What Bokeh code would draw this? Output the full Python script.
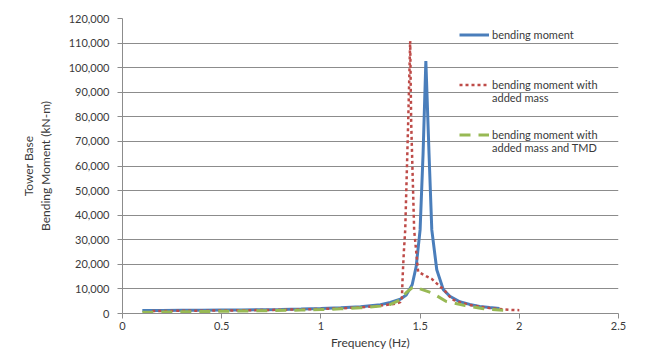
from bokeh.plotting import figure
from bokeh.models import Range1d, FixedTicker, Legend, LegendItem
from bokeh.embed import file_html
from bokeh.resources import INLINE

# ---- data ----
freq_bm = [0.1, 0.2, 0.3, 0.4, 0.5, 0.6, 0.7, 0.8, 0.9, 1.0, 1.1, 1.2, 1.3, 1.35, 1.4,
           1.43, 1.46, 1.48, 1.5, 1.515, 1.529, 1.545, 1.559, 1.584, 1.617, 1.65,
           1.7, 1.75, 1.8, 1.85, 1.9]
bm = [1200, 1250, 1300, 1350, 1400, 1450, 1550, 1650, 1800, 2000, 2300, 2700, 3600, 4500, 5800,
      7500, 11700, 19000, 34000, 65000, 102700, 65000, 34000, 17800, 9700, 7000,
      4800, 3700, 2900, 2400, 2000]

freq_mass = [0.15, 0.3, 0.5, 0.7, 0.9, 1.0, 1.1, 1.2, 1.3, 1.38, 1.40, 1.408, 1.412, 1.418,
             1.425, 1.44, 1.45, 1.455, 1.47, 1.49, 1.53, 1.56, 1.6, 1.62, 1.66, 1.7,
             1.75, 1.8, 1.85, 1.9, 1.95, 2.0]
bm_mass = [1000, 1100, 1200, 1400, 1650, 1850, 2100, 2500, 3200, 4000, 4600, 5500, 15000, 25000,
           34000, 78000, 110800, 78000, 34000, 17000, 15200, 14000, 11000, 9700, 5800, 4600,
           3500, 2800, 2200, 1800, 1500, 1350]

freq_tmd = [0.1, 0.3, 0.5, 0.7, 0.9, 1.0, 1.1, 1.2, 1.3, 1.35, 1.4, 1.43, 1.467, 1.5, 1.559,
            1.63, 1.727, 1.82, 1.9, 1.93]
bm_tmd = [500, 700, 900, 1100, 1400, 1600, 1900, 2300, 3000, 3700, 5500, 8500, 11000, 10000, 8400,
          5000, 3200, 1900, 1400, 1300]

# legend labels, one list per series (one entry per text line)
series_names = [["bending moment"],
                ["bending moment with", "added mass"],
                ["bending moment with", "added mass and TMD"]]

x_ticks = [0, 0.5, 1, 1.5, 2, 2.5]
x_tick_labels = ["0", "0.5", "1", "1.5", "2", "2.5"]
y_ticks = [0, 10000, 20000, 30000, 40000, 50000, 60000, 70000, 80000, 90000, 100000, 110000, 120000]
y_tick_labels = ["0", "10,000", "20,000", "30,000", "40,000", "50,000", "60,000", "70,000",
                 "80,000", "90,000", "100,000", "110,000", "120,000"]

FONT = "Lato"
TXT = "#3a3a3a"
GRID = "#8c8c8c"

p = figure(width=654, height=352, output_backend="svg", toolbar_location=None,
           x_range=Range1d(0, 2.5), y_range=Range1d(0, 120000),
           min_border_left=122, min_border_right=36, min_border_top=18, min_border_bottom=38)

p.outline_line_color = None
p.background_fill_color = "white"
p.border_fill_color = "white"

p.xgrid.grid_line_color = None
p.ygrid.grid_line_color = GRID
p.ygrid.grid_line_width = 1
p.ygrid.ticker = FixedTicker(ticks=y_ticks)

p.xaxis.ticker = FixedTicker(ticks=x_ticks)
p.yaxis.ticker = FixedTicker(ticks=y_ticks)
p.xaxis.major_label_overrides = {t: l for t, l in zip(x_ticks, x_tick_labels)}
p.yaxis.major_label_overrides = {t: l for t, l in zip(y_ticks, y_tick_labels)}

for ax in (p.xaxis[0], p.yaxis[0]):
    ax.axis_line_color = GRID
    ax.major_tick_line_color = GRID
    ax.major_tick_in = 0
    ax.major_tick_out = 5
    ax.minor_tick_line_color = None
    ax.major_label_text_font = FONT
    ax.major_label_text_font_size = "11px"
    ax.major_label_text_color = TXT
    ax.axis_label_text_font = FONT
    ax.axis_label_text_font_size = "12px"
    ax.axis_label_text_font_style = "normal"
    ax.axis_label_text_color = TXT
    ax.axis_label_text_line_height = 1.1

p.xaxis.axis_label = "Frequency (Hz)"
p.yaxis.axis_label = "Tower Base\nBending Moment (kN-m)"
p.xaxis.major_label_standoff = 3
p.yaxis.major_label_standoff = 8
p.xaxis.axis_label_standoff = 2
p.yaxis.axis_label_standoff = 13

r1 = p.line(freq_bm, bm, line_color="#4a7ebb", line_width=3)
r2 = p.line(freq_mass, bm_mass, line_color="#be4b48", line_width=2.5, line_dash="3 3")
r3 = p.line(freq_tmd, bm_tmd, line_color="#98b954", line_width=3, line_dash="11 8")
# a renderer that draws nothing, used to give legend entries a second text line
blank = p.line(x=[], y=[], line_alpha=0)

legend_bottoms = [272.5, 209.5, 159.5]
for names, rend, yb in zip(series_names, [r1, r2, r3], legend_bottoms):
    items = [LegendItem(label=names[0], renderers=[rend])]
    for extra in names[1:]:
        items.append(LegendItem(label=extra, renderers=[blank]))
    lg = Legend(items=items, location=(337, yb), padding=0, margin=0, spacing=0,
                glyph_width=30, glyph_height=13, label_height=13, label_standoff=3,
                label_text_font=FONT, label_text_font_size="11px", label_text_color=TXT,
                background_fill_alpha=0, border_line_color=None)
    p.add_layout(lg)

open("out.html", "w").write(file_html(p, INLINE))
